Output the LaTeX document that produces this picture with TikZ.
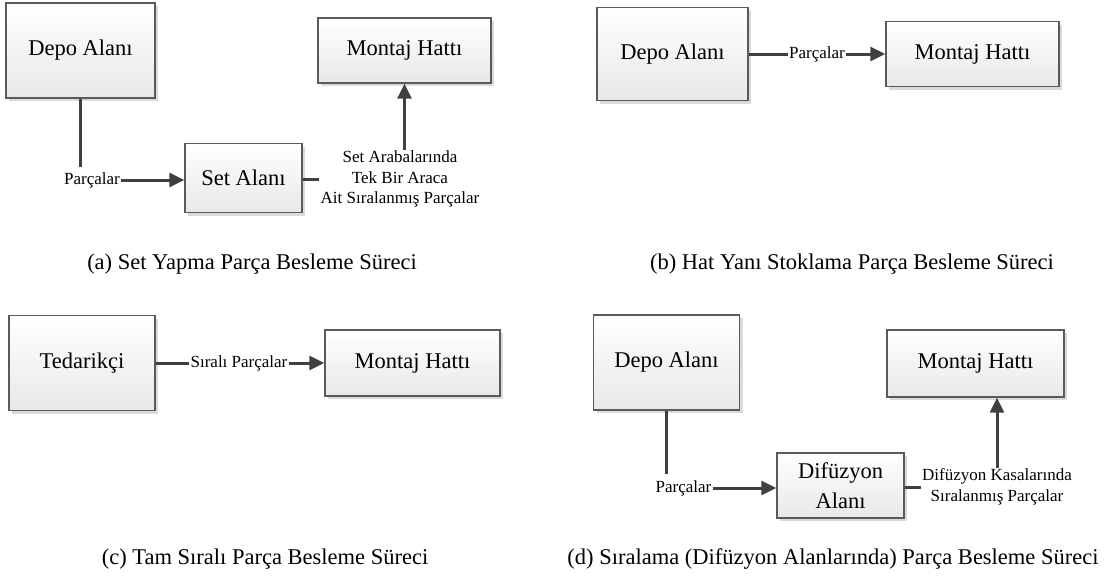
\documentclass[tikz,border=0pt]{standalone}
\usepackage{fontspec}
\setmainfont{Liberation Serif}
\newfontfamily\tnr{Liberation Serif}
\usetikzlibrary{arrows.meta,shadows}
\definecolor{boxline}{HTML}{5A5A5A}
\definecolor{lineC}{HTML}{404040}
\definecolor{boxbot}{HTML}{E8E8E8}
\definecolor{shadowc}{HTML}{DADADA}
\tikzset{
  box/.style={draw=boxline, line width=1.4pt, top color=white, bottom color=boxbot,
    drop shadow={shadow xshift=3pt, shadow yshift=-3pt, fill=shadowc, opacity=1},
    inner sep=0pt, align=center, font=\tnr\fontsize{22.5}{30}\selectfont},
  lbl/.style={inner sep=1pt, align=center, font=\tnr\fontsize{17}{20.5}\selectfont},
  captxt/.style={inner sep=0pt, anchor=base, font=\tnr\fontsize{22.5}{26}\selectfont},
  conn/.style={draw=lineC, line width=3pt},
  arr/.style={conn, -{Triangle[length=15pt,width=14pt]}},
}
\begin{document}
\begin{tikzpicture}[x=1pt,y=-1pt]
\useasboundingbox (0,0) rectangle (1116,576);
% (a)
\node[box, minimum width=149pt, minimum height=95pt] (depoA) at (80.5,50.5) {Depo Alanı};
\node[box, minimum width=117pt, minimum height=69pt] (setA) at (243.5,178) {Set Alanı};
\node[box, minimum width=173pt, minimum height=65pt] (montA) at (404.5,50.5) {Montaj Hattı};
\node[lbl] (pA) at (92,180) {Parçalar};
\node[lbl] (sA) at (400,179) {Set Arabalarında\\Tek Bir Araca\\Ait Sıralanmış Parçalar};
\coordinate (cA) at (80.5,167);
\draw[conn] (depoA.south) -- (cA);
\draw[arr] (pA.east) -- (pA.east -| setA.west);
\draw[conn] (sA.west -| setA.east) -- (sA.west);
\draw[arr] (sA.north -| montA.south) -- (montA.south);
\node[captxt] (capA) at (252,269) {(a) Set Yapma Parça Besleme Süreci};
% (b)
\node[box, minimum width=151pt, minimum height=93pt] (depoB) at (672.5,54) {Depo Alanı};
\node[box, minimum width=173pt, minimum height=65pt] (montB) at (972.5,54) {Montaj Hattı};
\node[lbl] (pB) at (817,54) {Parçalar};
\draw[conn] (depoB.east) -- (pB.west);
\draw[arr] (pB.east) -- (montB.west);
\node[captxt] (capB) at (852,269) {(b) Hat Yanı Stoklama Parça Besleme Süreci};
% (c)
\node[box, minimum width=146pt, minimum height=95pt] (tedC) at (82,363) {Tedarikçi};
\node[box, minimum width=175pt, minimum height=66pt] (montC) at (412.5,363) {Montaj Hattı};
\node[lbl] (pC) at (239,363) {Sıralı Parçalar};
\draw[conn] (tedC.east) -- (pC.west);
\draw[arr] (pC.east) -- (montC.west);
\node[captxt] (capC) at (265,564) {(c) Tam Sıralı Parça Besleme Süreci};
% (d)
\node[box, minimum width=146pt, minimum height=95pt] (depoD) at (666.5,362.5) {Depo Alanı};
\node[box, minimum width=177pt, minimum height=67pt] (montD) at (975.5,363.5) {Montaj Hattı};
\node[box, minimum width=127pt, minimum height=65pt] (difD) at (840.5,485.5) {Difüzyon\\Alanı};
\node[lbl] (pD) at (683.5,488) {Parçalar};
\node[lbl] (sD) at (997,487) {Difüzyon Kasalarında\\Sıralanmış Parçalar};
\coordinate (cD) at (666.5,474);
\draw[conn] (depoD.south) -- (cD);
\draw[arr] (pD.east) -- (pD.east -| difD.west);
\draw[conn] (sD.west -| difD.east) -- (sD.west);
\draw[arr] (sD.north) -- (sD.north |- montD.south);
\node[captxt] (capD) at (833,564) {(d) Sıralama (Difüzyon Alanlarında) Parça Besleme Süreci};
\end{tikzpicture}
\end{document}
